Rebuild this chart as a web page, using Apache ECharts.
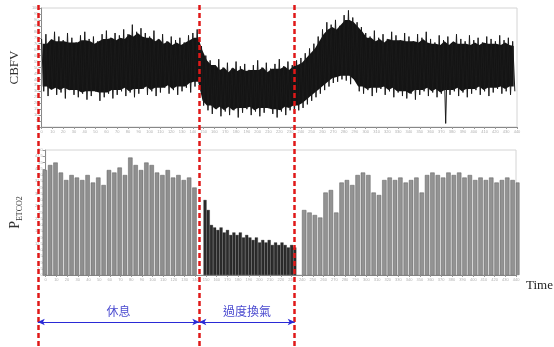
<!DOCTYPE html>
<html>
<head>
<meta charset="utf-8">
<script src="https://cdn.jsdelivr.net/npm/echarts@6/dist/echarts.min.js"></script>
<style>
  html, body { margin: 0; padding: 0; background: #fff; }
  #chart { width: 554px; height: 347px; }
</style>
</head>
<body>
<div id="chart"></div>
<script>
// CBFV envelope, one high/low pair every 4 s (rest | hyperventilation | recovery)
const cbfvHigh = [
  74, 78, 72, 80, 76, 73, 79, 75, 71, 77, 80, 74, 76, 72, 78, 81, 75, 79, 77, 82,
  78, 86, 80, 83, 79, 76, 81, 74, 78, 72, 76, 73, 75, 71, 77, 79, 82,
  68, 60, 56, 52, 57, 50, 54, 49, 55, 51, 53, 48, 52, 56, 50, 54, 49, 53, 57, 51, 55, 52,
  56, 58, 62, 66, 70, 76, 82, 88, 86, 90, 85, 94, 98, 92, 88, 84, 79, 76, 81, 75,
  78, 74, 80, 77, 73, 79, 76, 72, 78, 75, 80, 74, 71, 77, 73, 76, 70, 78, 74, 72,
  77, 73, 75, 71, 76, 74, 72, 77, 73, 75, 72
];
const cbfvLow = [
  30, 26, 32, 27, 29, 24, 31, 27, 25, 28, 23, 26, 30, 22, 25, 28, 24, 27, 30, 26,
  29, 25, 28, 32, 27, 30, 26, 29, 33, 28, 31, 27, 30, 33, 29, 34, 36,
  18, 14, 11, 15, 9, 13, 10, 14, 8, 12, 15, 10, 13, 9, 12, 16, 11, 8, 13, 10, 14, 12,
  14, 16, 19, 22, 25, 28, 31, 34, 37, 38, 40, 39, 36, 41, 30, 28, 31, 26, 29, 32,
  27, 30, 25, 29, 26, 24, 28, 23, 27, 30, 26, 29, 25, 28, 3, 27, 30, 26, 29, 25,
  28, 31, 27, 30, 26, 29, 32, 28, 30, 27, 30
];
const cbfvStep = 4;

// end-tidal CO2 plateau of each breath
const restPeaks = [42, 44, 45, 41, 38, 40, 39, 38, 40, 37, 39, 36, 42, 41, 43, 40, 47, 44, 42, 45,
  44, 41, 40, 42, 39, 40, 38, 39, 35];
const restStart = 3, restStep = 5;
const hyperPeaks = [30, 26, 20, 19, 18, 19, 17, 18, 16, 17, 16, 17, 15, 16, 15, 14, 15, 13, 14, 13,
  14, 12, 13, 12, 13, 12, 11, 12, 11];
const hyperStart = 149, hyperStep = 3;
const recoveryPeaks = [26, 25, 24, 23, 33, 34, 25, 37, 38, 36, 40, 41, 40, 33, 32, 38, 39, 38, 39, 37,
  38, 39, 33, 40, 41, 40, 39, 41, 40, 41, 39, 40, 38, 39, 38, 39, 37, 38, 39, 38, 37];
const recoveryStart = 238, recoveryStep = 5;

const phaseBounds = [-2, 147, 235];
const phaseNames = ['休息', '過度換氣'];

const cbfvZigzag = [];
cbfvHigh.forEach((h, i) => {
  cbfvZigzag.push([i * cbfvStep, h]);
  cbfvZigzag.push([i * cbfvStep + cbfvStep / 2, cbfvLow[i]]);
});
const med3 = (arr, i) => {
  const w = [arr[Math.max(i - 1, 0)], arr[i], arr[Math.min(i + 1, arr.length - 1)]].sort((a, b) => a - b);
  return w[1];
};
// solid core sits a little inside the envelope so the beat spikes stick out of it
const bandRows = cbfvHigh.map((h, i) => [i * cbfvStep + 1, med3(cbfvLow, i) + 4, med3(cbfvHigh, i) - 4]);
const breaths = (peaks, start, step) => peaks.map((v, k) => [start + k * step, v]);

function renderBand(params, api) {
  if (params.dataIndex !== 0) return null;
  const top = bandRows.map(r => api.coord([r[0], r[2]]));
  const bottom = bandRows.map(r => api.coord([r[0], r[1]])).reverse();
  return {
    type: 'polygon',
    shape: { points: top.concat(bottom) },
    style: { fill: '#000', opacity: 0.92 }
  };
}

const tinyLabel = { fontSize: 4, color: '#b0b0b0', margin: 3 };
const timeAxis = (gridIndex, name) => ({
  type: 'value', gridIndex, min: 0, max: 440, interval: 10,
  axisLine: { lineStyle: { color: '#888' } },
  axisTick: { length: 2, lineStyle: { color: '#999' } },
  axisLabel: tinyLabel,
  splitLine: { show: false },
  name: name || '',
  nameLocation: 'end', nameGap: 10,
  nameTextStyle: { fontFamily: 'Liberation Serif', fontSize: 13, color: '#222', verticalAlign: 'top', padding: [4, 0, 0, 0] }
});

const chart = echarts.init(document.getElementById('chart'), null, { renderer: 'canvas' });
chart.setOption({
  animation: false,
  backgroundColor: '#fff',
  grid: [
    { left: 40, right: 37, top: 8, height: 119, show: true, borderColor: '#d4d4d4', borderWidth: 1 },
    { left: 40, right: 37, top: 150, height: 125, show: true, borderColor: '#d4d4d4', borderWidth: 1 },
    { left: 2, right: 37, top: 5, bottom: 0 }
  ],
  xAxis: [
    timeAxis(0),
    timeAxis(1, 'Time'),
    { type: 'value', gridIndex: 2, min: -35, max: 440, show: false }
  ],
  yAxis: [
    {
      type: 'value', gridIndex: 0, min: 0, max: 100, interval: 5,
      axisLine: { show: true, lineStyle: { color: '#888' } },
      axisTick: { show: true, length: 3, lineStyle: { color: '#999' } },
      axisLabel: tinyLabel, splitLine: { show: false },
      name: 'CBFV', nameLocation: 'middle', nameGap: 20, nameRotate: 90,
      nameTextStyle: { fontFamily: 'Liberation Serif', fontSize: 13, color: '#333' }
    },
    {
      type: 'value', gridIndex: 1, min: 0, max: 50, interval: 2.5,
      axisLine: { show: true, lineStyle: { color: '#888' } },
      axisTick: { show: true, length: 3, lineStyle: { color: '#999' } },
      axisLabel: tinyLabel, splitLine: { show: false },
      name: '{p|P}{s|ETCO2}', nameLocation: 'middle', nameGap: 20, nameRotate: 90,
      nameTextStyle: {
        rich: {
          p: { fontFamily: 'Liberation Serif', fontSize: 14, color: '#333', verticalAlign: 'top', lineHeight: 16 },
          s: { fontFamily: 'Liberation Serif', fontSize: 8, color: '#333', verticalAlign: 'bottom', lineHeight: 16, padding: [6, 0, 0, 0] }
        }
      }
    },
    { type: 'value', gridIndex: 2, min: 5, max: 347, inverse: true, show: false }
  ],
  series: [
    {
      type: 'custom', xAxisIndex: 0, yAxisIndex: 0, data: bandRows,
      renderItem: renderBand, silent: true, clip: true
    },
    {
      type: 'line', xAxisIndex: 0, yAxisIndex: 0, data: cbfvZigzag,
      symbol: 'none', sampling: null,
      lineStyle: { color: '#1a1a1a', width: 1 }
    },
    {
      type: 'bar', xAxisIndex: 1, yAxisIndex: 1, barWidth: 4.4,
      data: breaths(restPeaks, restStart, restStep),
      itemStyle: { color: '#8f8f8f', borderColor: '#5e5e5e', borderWidth: 0.5 }
    },
    {
      type: 'bar', xAxisIndex: 1, yAxisIndex: 1, barWidth: 3,
      data: breaths(hyperPeaks, hyperStart, hyperStep),
      itemStyle: { color: '#2c2c2c', borderColor: '#111', borderWidth: 0.3 }
    },
    {
      type: 'bar', xAxisIndex: 1, yAxisIndex: 1, barWidth: 4.4,
      data: breaths(recoveryPeaks, recoveryStart, recoveryStep),
      itemStyle: { color: '#939393', borderColor: '#5e5e5e', borderWidth: 0.5 }
    },
    {
      type: 'line', xAxisIndex: 2, yAxisIndex: 2, data: [], silent: true,
      markLine: {
        silent: true, symbol: 'none', animation: false,
        lineStyle: { color: '#e01818', width: 2.5, type: [5, 3] },
        label: { show: false },
        data: phaseBounds.map(x => ({ xAxis: x }))
      }
    },
    {
      type: 'line', xAxisIndex: 2, yAxisIndex: 2, data: [], silent: true,
      markLine: {
        silent: true, animation: false,
        symbol: ['arrow', 'arrow'], symbolSize: [5, 7],
        lineStyle: { color: '#2a2ad6', width: 1.2, type: 'solid' },
        label: {
          show: true, position: 'middle', color: '#4b4bd0',
          fontFamily: 'Noto Sans CJK TC', fontSize: 12,
          backgroundColor: '#fff', padding: [0, 8]
        },
        data: phaseNames.map((n, i) => [
          { coord: [phaseBounds[i], 322], name: n },
          { coord: [phaseBounds[i + 1], 322] }
        ])
      }
    }
  ]
});
</script>
</body>
</html>
